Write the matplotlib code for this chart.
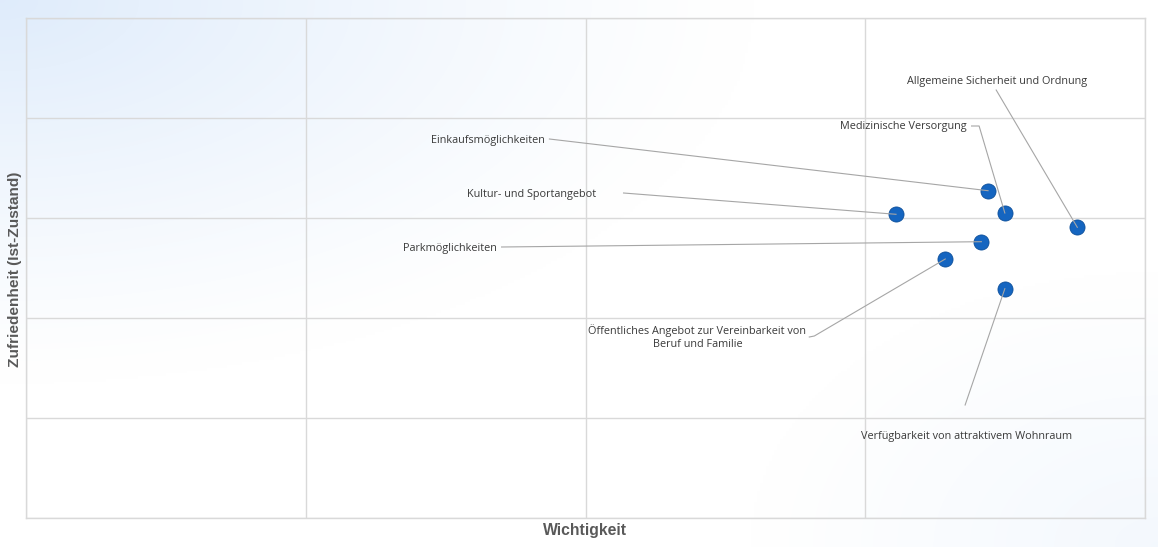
import numpy as np
import matplotlib
matplotlib.use("Agg")
import matplotlib.pyplot as plt

# ---- data ----
categories = [
    "Allgemeine Sicherheit und Ordnung",
    "Medizinische Versorgung",
    "Einkaufsmöglichkeiten",
    "Kultur- und Sportangebot",
    "Parkmöglichkeiten",
    "Öffentliches Angebot zur Vereinbarkeit von\nBeruf und Familie",
    "Verfügbarkeit von attraktivem Wohnraum",
]
wichtigkeit = [3.758, 3.499, 3.439, 3.110, 3.415, 3.286, 3.499]
zufriedenheit = [2.907, 3.050, 3.273, 3.037, 2.763, 2.590, 2.293]

# ---- layout of labels (data coords): text anchor, alignment, leader start ----
label_pos = [(3.471, 4.36), (3.364, 3.92), (1.854, 3.78), (2.039, 3.24),
             (1.682, 2.70), (2.400, 1.81), (3.361, 0.82)]
label_ha = ["center", "right", "right", "right", "right", "center", "center"]
leader_start = [[(3.468, 4.28)],
                [(3.380, 3.92), (3.407, 3.92)],
                [(1.871, 3.79)],
                [(2.136, 3.25)],
                [(1.700, 2.71)],
                [(2.800, 1.81), (2.818, 1.82)],
                [(3.357, 1.13)]]

W, H, DPI = 1158, 547, 100
fig = plt.figure(figsize=(W / DPI, H / DPI), dpi=DPI)

# background gradient
bg = fig.add_axes([0, 0, 1, 1], zorder=-10)
yy, xx = np.mgrid[0:1:200j, 0:1:400j]
d = np.clip(1 - np.sqrt((xx / 0.65) ** 2 + (yy / 0.7) ** 2), 0, 1) ** 1.2
d2 = np.clip(1 - np.sqrt(((1 - xx) / 0.35) ** 2 + ((1 - yy) / 0.5) ** 2), 0, 1) * 0.35
t = np.clip(d + d2, 0, 1)
c0 = np.array([1.0, 1.0, 1.0])
c1 = np.array([0.875, 0.925, 0.985])
img = c0[None, None, :] * (1 - t[..., None]) + c1[None, None, :] * t[..., None]
bg.imshow(img, aspect="auto", extent=[0, 1, 1, 0], interpolation="bilinear")
bg.axis("off")

ax = fig.add_axes([26 / W, (H - 518) / H, (1145 - 26) / W, 500 / H])
ax.patch.set_alpha(0)
ax.set_xlim(0, 4)
ax.set_ylim(0, 5)
ax.set_xticks([0, 1, 2, 3, 4])
ax.set_yticks([0, 1, 2, 3, 4, 5])
ax.tick_params(length=0, labelbottom=False, labelleft=False)
ax.grid(True, color="#d9d9d9", linewidth=1.0)
ax.set_axisbelow(True)
for s in ax.spines.values():
    s.set_color("#d9d9d9")
    s.set_linewidth(1.0)

ax.scatter(wichtigkeit, zufriedenheit, s=118, color="#1565c0",
           edgecolor="#0d4f9a", linewidth=0.6, zorder=3)

for i, name in enumerate(categories):
    lx, ly = label_pos[i]
    ax.text(lx, ly, name, ha=label_ha[i], va="center", fontsize=7.8,
            family="Open Sans", color="#3a3a3a", linespacing=1.3,
            multialignment="center", zorder=5)
    pts = leader_start[i] + [(wichtigkeit[i], zufriedenheit[i])]
    xs = [p[0] for p in pts]
    ys = [p[1] for p in pts]
    ax.plot(xs, ys, color="#a6a6a6", linewidth=0.8, zorder=4)

fig.text(585 / W, 1 - 531 / H, "Wichtigkeit", ha="center", va="center",
         fontsize=11.3, fontweight="bold", family="Liberation Sans", color="#595959")
fig.text(15 / W, 1 - 269 / H, "Zufriedenheit (Ist-Zustand)", ha="center", va="center",
         rotation=90, fontsize=11.1, fontweight="bold", family="Liberation Sans",
         color="#595959")

fig.savefig("out.png", dpi=DPI)
